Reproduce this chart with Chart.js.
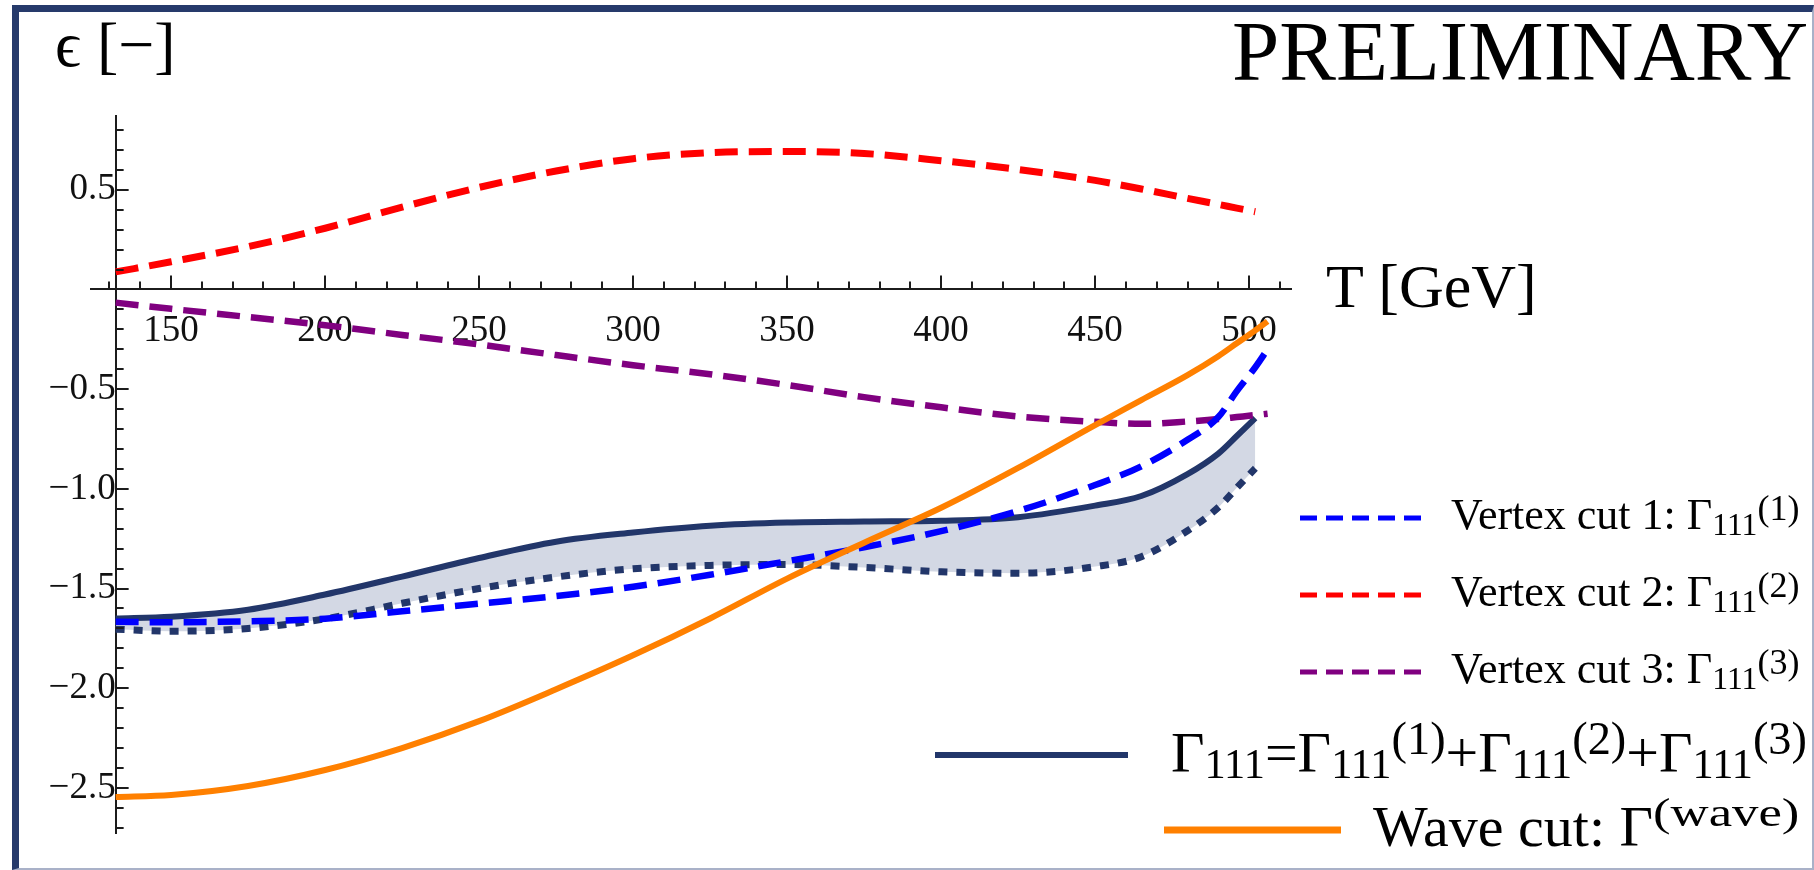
<!DOCTYPE html>
<html>
<head>
<meta charset="utf-8">
<title>Vertex cuts vs T</title>
<script src="https://cdn.jsdelivr.net/npm/chart.js@4.4.1/dist/chart.umd.min.js"></script>
<style>
  html, body { margin: 0; padding: 0; background: #fff; }
  #wrap { position: relative; width: 1814px; height: 870px; overflow: hidden;
          font-family: "Liberation Serif", "DejaVu Serif", serif; color: #000; }
  #plot { position: absolute; left: 0; top: 0; }
  #frame { position: absolute; left: 12px; top: 5px; width: 1793px; height: 856px;
           border-left: 7px solid #263a6b; border-top: 7px solid #263a6b;
           border-right: 2px solid #a9b1c8; border-bottom: 2px solid #a9b1c8;
           pointer-events: none; }
  .lbl { position: absolute; line-height: 0; white-space: nowrap; }
  .sb { font-size: 0.72em; position: relative; top: 0.17em; }
  .sp { font-size: 0.82em; position: relative; top: -0.24em; }
  .big .sb { font-size: 0.73em; top: 0.12em; }
  .big .sp { font-size: 0.8em; top: -0.39em; }
  .wave .sp { font-size: 0.7em; top: -0.5em; display: inline-block; transform: scaleX(1.3); transform-origin: 0 0; }
</style>
</head>
<body>
<div id="wrap">
  <canvas id="plot" width="1814" height="870"></canvas>
  <div id="frame"></div>

  <div class="lbl" data-x="55" data-b="67" data-s="64">ϵ [−]</div>
  <div class="lbl" data-x="1232" data-b="80" data-s="85">PRELIMINARY</div>
  <div class="lbl" data-x="1326" data-b="307" data-s="62">T [GeV]</div>

  <div class="lbl" data-x="1451" data-b="530" data-s="44">Vertex cut 1: Γ<span class="sb">111</span><span class="sp">(1)</span></div>
  <div class="lbl" data-x="1451" data-b="607" data-s="44">Vertex cut 2: Γ<span class="sb">111</span><span class="sp">(2)</span></div>
  <div class="lbl" data-x="1451" data-b="684" data-s="44">Vertex cut 3: Γ<span class="sb">111</span><span class="sp">(3)</span></div>
  <div class="lbl big" data-x="1171" data-b="773" data-s="58">Γ<span class="sb">111</span>=Γ<span class="sb">111</span><span class="sp">(1)</span>+Γ<span class="sb">111</span><span class="sp">(2)</span>+Γ<span class="sb">111</span><span class="sp">(3)</span></div>
  <div class="lbl big wave" data-x="1373" data-b="847" data-s="58">Wave cut: Γ<span class="sp">(wave)</span></div>
</div>

<script>
// temperature grid (GeV)
const temps = [132, 150, 175, 200, 225, 250, 275, 300, 325, 350, 375, 400, 425, 450, 465, 480, 490, 496, 502, 506];

// efficiencies
const vertexCut1 = [-1.667, -1.669, -1.664, -1.651, -1.614, -1.576, -1.538, -1.491, -1.431, -1.363, -1.293, -1.212, -1.111, -0.981, -0.887, -0.754, -0.64, -0.51, -0.39, -0.30];
const vertexCut2 = [0.088, 0.139, 0.215, 0.307, 0.413, 0.512, 0.594, 0.656, 0.686, 0.692, 0.682, 0.646, 0.602, 0.547, 0.504, 0.457, 0.427, 0.408, 0.39, null];
const vertexCut3 = [-0.066, -0.097, -0.138, -0.179, -0.228, -0.276, -0.329, -0.38, -0.425, -0.479, -0.540, -0.591, -0.637, -0.664, -0.674, -0.662, -0.650, -0.640, -0.630, -0.623];
const gammaTotal = [-1.650, -1.641, -1.606, -1.530, -1.44, -1.347, -1.265, -1.219, -1.185, -1.169, -1.164, -1.160, -1.142, -1.084, -1.036, -0.926, -0.823, -0.735, -0.645, null];
const gammaLower = [-1.704, -1.714, -1.700, -1.652, -1.574, -1.50, -1.442, -1.401, -1.384, -1.379, -1.394, -1.416, -1.423, -1.39, -1.34, -1.21, -1.093, -0.995, -0.897, null];
const waveCut = [-2.545, -2.535, -2.49, -2.41, -2.30, -2.165, -2.005, -1.835, -1.65, -1.45, -1.27, -1.095, -0.895, -0.68, -0.555, -0.43, -0.335, -0.27, -0.205, -0.16];

const xTickLabels = [150, 200, 250, 300, 350, 400, 450, 500];
const yTickLabels = [0.5, -0.5, -1.0, -1.5, -2.0, -2.5];

const NAVY = "#22366a";
const FONT = "'Liberation Serif', 'DejaVu Serif', serif";
const Y_AXIS_AT = 132;

function pts(vals) {
  return temps.map((t, i) => ({ x: t, y: vals[i] }));
}

// place html labels by baseline (line-height 0 trick, Liberation Serif metrics)
document.querySelectorAll(".lbl").forEach(el => {
  const s = Number(el.dataset.s);
  el.style.fontSize = s + "px";
  el.style.left = el.dataset.x + "px";
  el.style.top = (Number(el.dataset.b) - 0.3375 * s) + "px";
});

// legend sample lines: dataset index -> position
const legendRows = [
  { ds: 1, x1: 1300, x2: 1421, y: 518, w: 5, dash: [17, 9] },
  { ds: 3, x1: 1300, x2: 1421, y: 595, w: 5, dash: [17, 9] },
  { ds: 2, x1: 1300, x2: 1421, y: 672, w: 5, dash: [17, 9] },
  { ds: 4, x1: 935, x2: 1128, y: 755, w: 6, dash: [] },
  { ds: 0, x1: 1164, x2: 1341, y: 830, w: 7, dash: [] }
];

const axisTicks = {
  id: "axisTicks",
  afterDraw(chart) {
    const { ctx, scales: { x, y } } = chart;
    const y0 = y.getPixelForValue(0);
    const x0 = x.getPixelForValue(Y_AXIS_AT);
    ctx.save();
    ctx.strokeStyle = "#1c1c1c";
    ctx.lineWidth = 2;
    ctx.beginPath();
    for (let t = 130; t <= 510; t += 10) {
      const px = Math.round(x.getPixelForValue(t));
      const len = t % 50 === 0 ? 14 : 8;
      ctx.moveTo(px, y0);
      ctx.lineTo(px, y0 - len);
    }
    for (let k = -27; k <= 8; k++) {
      if (k === 0) continue;
      const py = Math.round(y.getPixelForValue(k / 10));
      const len = k % 5 === 0 ? 13 : 8;
      ctx.moveTo(x0, py);
      ctx.lineTo(x0 + len, py);
    }
    ctx.stroke();

    legendRows.forEach(r => {
      const ds = chart.data.datasets[r.ds];
      ctx.beginPath();
      ctx.strokeStyle = ds.borderColor;
      ctx.lineWidth = r.w;
      ctx.setLineDash(r.dash);
      ctx.lineCap = "butt";
      ctx.moveTo(r.x1, r.y);
      ctx.lineTo(r.x2, r.y);
      ctx.stroke();
    });
    ctx.restore();
  }
};

const lineDefaults = { pointRadius: 0, cubicInterpolationMode: "monotone", fill: false, spanGaps: false };

new Chart(document.getElementById("plot").getContext("2d"), {
  type: "line",
  data: {
    datasets: [
      { ...lineDefaults, label: "Wave cut", data: pts(waveCut), borderColor: "#ff8000", borderWidth: 6 },
      { ...lineDefaults, label: "Vertex cut 1", data: pts(vertexCut1), borderColor: "#0000ff", borderWidth: 6.5, borderDash: [23, 11] },
      { ...lineDefaults, label: "Vertex cut 3", data: pts(vertexCut3), borderColor: "#800080", borderWidth: 6.5, borderDash: [23, 11] },
      { ...lineDefaults, label: "Vertex cut 2", data: pts(vertexCut2), borderColor: "#ff0000", borderWidth: 7, borderDash: [23, 11] },
      { ...lineDefaults, label: "Gamma111", data: pts(gammaTotal), borderColor: NAVY, borderWidth: 6,
        fill: "+1", backgroundColor: "#d3d8e4" },
      { ...lineDefaults, label: "Gamma111 lower", data: pts(gammaLower), borderColor: NAVY, borderWidth: 7, borderDash: [9, 9] }
    ]
  },
  options: {
    responsive: false,
    animation: false,
    devicePixelRatio: 1,
    layout: { padding: { left: 91, right: 523, top: 116, bottom: 13 } },
    plugins: {
      legend: { display: false },
      tooltip: { enabled: false },
      filler: { drawTime: "beforeDatasetsDraw" }
    },
    scales: {
      x: {
        type: "linear",
        min: 124,
        max: 513.6,
        position: { y: 0 },
        grid: { display: false, drawTicks: false },
        border: { display: true, color: "#1c1c1c", width: 2 },
        afterBuildTicks: s => { s.ticks = xTickLabels.map(v => ({ value: v })); },
        ticks: {
          autoSkip: false, maxRotation: 0, padding: 20,
          color: "#111", font: { family: FONT, size: 37 },
          callback: v => String(v)
        }
      },
      y: {
        type: "linear",
        min: -2.73,
        max: 0.87,
        position: { x: Y_AXIS_AT },
        grid: { display: false, drawTicks: false },
        border: { display: true, color: "#1c1c1c", width: 2 },
        afterBuildTicks: s => { s.ticks = yTickLabels.map(v => ({ value: v })); },
        ticks: {
          autoSkip: false, padding: 14,
          color: "#111", font: { family: FONT, size: 37 },
          callback: v => (v < 0 ? "\u2212" : "") + Math.abs(v).toFixed(1)
        }
      }
    }
  },
  plugins: [axisTicks]
});
</script>
</body>
</html>
